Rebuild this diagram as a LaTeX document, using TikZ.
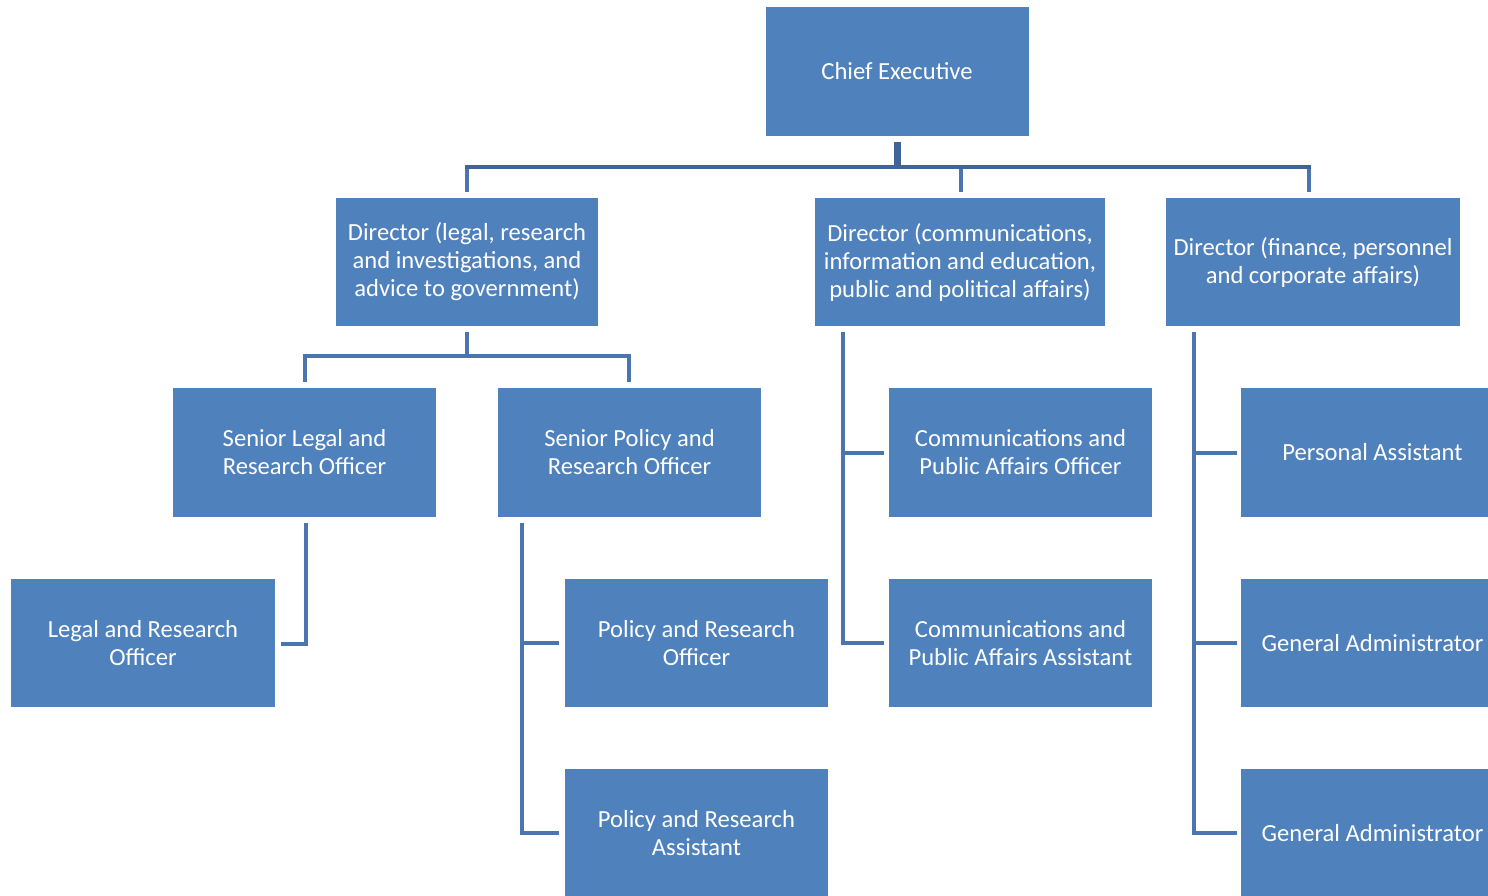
\documentclass[tikz,border=0pt]{standalone}
\usepackage{fontspec}
\setmainfont{Carlito}
\usetikzlibrary{calc}
\definecolor{boxblue}{HTML}{4F81BD}
\definecolor{lineblue}{HTML}{4A75AE}
\definecolor{trunkblue}{HTML}{3F6598}
\tikzset{
  box/.style={fill=boxblue, draw=none, text=white, align=center, inner sep=0pt,
    font=\fontsize{24.6}{28}\selectfont, minimum width=263pt, minimum height=129pt},
  conn/.style={draw=lineblue, line width=4pt},
  trunk/.style={draw=trunkblue, line width=7pt},
  hbar/.style={draw=trunkblue, line width=4.5pt},
}
\begin{document}
\begin{tikzpicture}[x=1pt,y=-1pt]
\useasboundingbox (0,0) rectangle (1488,896);
\clip (0,0) rectangle (1488,896);
\fill[white] (0,0) rectangle (1488,896);

\node[box] (chief) at (897,71.5) {Chief Executive};
\node[box, minimum width=262pt, minimum height=128pt] (dlegal) at (467,262) {Director (legal, research\\and investigations, and\\advice to government)};
\node[box, minimum width=290pt, minimum height=128pt] (dcomm) at (960,262) {Director (communications,\\information and education,\\public and political affairs)};
\node[box, minimum width=294pt, minimum height=128pt] (dfin) at (1313,262) {Director (finance, personnel\\and corporate affairs)};

\node[box] (slegal) at (304.5,452.5) {Senior Legal and\\Research Officer};
\node[box] (spolicy) at (629.5,452.5) {Senior Policy and\\Research Officer};
\node[box] (comoff) at (1020.5,452.5) {Communications and\\Public Affairs Officer};
\node[box] (pa) at (1372.5,452.5) {Personal Assistant};

\node[box, minimum width=264pt, minimum height=128pt] (lro) at (143,643) {Legal and Research\\Officer};
\node[box, minimum height=128pt] (pro) at (696.5,643) {Policy and Research\\Officer};
\node[box, minimum height=128pt] (cpa) at (1020.5,643) {Communications and\\Public Affairs Assistant};
\node[box, minimum height=128pt] (ga1) at (1372.5,643) {General Administrator};

\node[box] (pra) at (696.5,833) {Policy and Research\\Assistant};
\node[box] (ga2) at (1372.5,833) {General Administrator};

% Chief Executive to directors
\coordinate (cbar) at ($(chief.south)+(0,31)$);
\draw[conn] ($(dlegal.north)+(0,-6)$) -- (dlegal.north |- cbar);
\draw[conn] ($(dcomm.north)+(1,-6)$) -- ($(dcomm.north |- cbar)+(1,0)$);
\draw[conn] ($(dfin.north)+(-4,-6)$) -- ($(dfin.north |- cbar)+(-4,0)$);
\draw[hbar] ($(dlegal.north |- cbar)+(-2,0)$) -- ($(dfin.north |- cbar)+(-2,0)$);
\draw[trunk] ($(chief.south)+(0,6)$) -- (cbar);

% Director legal to seniors
\coordinate (lbar) at ($(dlegal.south)+(0,30)$);
\draw[conn] ($(dlegal.south)+(0,6)$) -- (lbar);
\draw[conn] ($(slegal.north)+(0.5,-6)$) |- (lbar) -| ($(spolicy.north)+(-0.5,-6)$);

% Director comms
\coordinate (ccx) at ($(dcomm.south west)+(28,6)$);
\draw[conn] (ccx) |- ($(cpa.west)+(-5,0)$);
\draw[conn] (ccx |- comoff.west) -- ($(comoff.west)+(-5,0)$);

% Director finance
\coordinate (fcx) at ($(dfin.south west)+(28,6)$);
\draw[conn] (fcx) |- ($(ga2.west)+(-4,0)$);
\draw[conn] (fcx |- pa.west) -- ($(pa.west)+(-4,0)$);
\draw[conn] (fcx |- ga1.west) -- ($(ga1.west)+(-4,0)$);

% Senior legal
\draw[conn] ($(slegal.south)+(1.5,6)$) |- ($(lro.east)+(6,1)$);

% Senior policy
\coordinate (pcx) at ($(spolicy.south west)+(24,6)$);
\draw[conn] (pcx) |- ($(pra.west)+(-6,0)$);
\draw[conn] (pcx |- pro.west) -- ($(pro.west)+(-6,0)$);
\end{tikzpicture}
\end{document}
